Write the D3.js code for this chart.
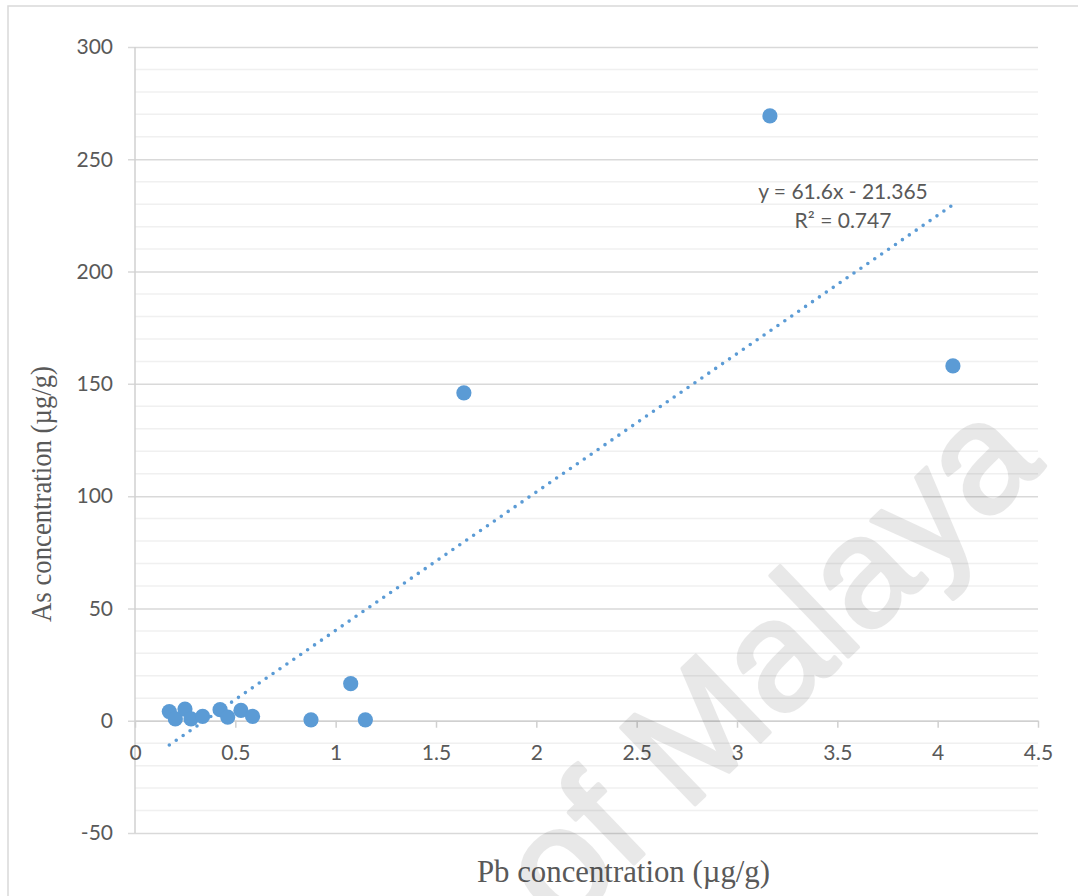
<!DOCTYPE html>
<html>
<head>
<meta charset="utf-8">
<script src="https://cdn.jsdelivr.net/npm/d3@7"></script>
<style>
  html, body { margin: 0; padding: 0; background: #fff; }
  svg { display: block; }
</style>
</head>
<body>
<svg id="chart" width="1078" height="896"></svg>
<script>
// ---- data ----
const pbValues = [0.171, 0.201, 0.249, 0.279, 0.337, 0.424, 0.462, 0.528, 0.586, 0.877, 1.075, 1.148, 1.639, 3.164, 4.076];
const asValues = [4.1, 0.8, 5.2, 0.8, 1.9, 4.9, 1.6, 4.6, 1.9, 0.4, 16.5, 0.4, 146.0, 269.3, 158.0];
const xTicks = [0, 0.5, 1, 1.5, 2, 2.5, 3, 3.5, 4, 4.5];
const yTicks = [-50, 0, 50, 100, 150, 200, 250, 300];
const trendSlope = 61.6;
const trendIntercept = -21.365;
const trendLabels = ["y = 61.6x - 21.365", "R\u00B2 = 0.747"];
const xTitle = "Pb concentration (\u00B5g/g)";
const yTitle = "As concentration (\u00B5g/g)";
const watermark = "of Malaya";

// ---- layout ----
const svg = d3.select("#chart");
const x = d3.scaleLinear().domain([0, 4.5]).range([135, 1038]);
const y = d3.scaleLinear().domain([-50, 300]).range([833, 47]);
const tickFont = "Lato, 'Open Sans', sans-serif";
const fmt = d => String(d);

// outer border
svg.append("rect").attr("x", 8).attr("y", 6).attr("width", 1090).attr("height", 900)
  .attr("fill", "none").attr("stroke", "#d9d9d9").attr("stroke-width", 1.5);

// minor gridlines
const minor = d3.range(-50, 301, 10).filter(v => v % 50 !== 0);
svg.append("g").selectAll("line").data(minor).join("line")
  .attr("x1", x(0)).attr("x2", x(4.5))
  .attr("y1", d => y(d)).attr("y2", d => y(d))
  .attr("stroke", "#f0f0f0").attr("stroke-width", 1.5);

// major gridlines (y axis with ticks)
const yAxis = d3.axisLeft(y).tickValues(yTicks).tickSize(-(x(4.5) - x(0))).tickSizeOuter(0)
  .tickFormat(fmt);
const gy = svg.append("g").attr("transform", `translate(${x(0)},0)`).call(yAxis);
gy.select(".domain").remove();
gy.selectAll(".tick line").attr("stroke", "#d9d9d9").attr("stroke-width", 1.5).attr("x1", -7);
gy.selectAll(".tick text").attr("fill", "#595959").style("font-family", tickFont)
  .style("font-size", "21px").attr("x", -22);

// y axis line
svg.append("line").attr("x1", x(0)).attr("x2", x(0)).attr("y1", y(300)).attr("y2", y(-50))
  .attr("stroke", "#d0d0d0").attr("stroke-width", 1.5);

// x axis at y=0
const xAxis = d3.axisBottom(x).tickValues(xTicks).tickSize(7).tickSizeOuter(0).tickFormat(fmt);
const gx = svg.append("g").attr("transform", `translate(0,${y(0)})`).call(xAxis);
gx.select(".domain").attr("stroke", "#d0d0d0").attr("stroke-width", 1.5);
gx.selectAll(".tick line").attr("stroke", "#d0d0d0").attr("stroke-width", 1.5);
gx.selectAll(".tick text").attr("fill", "#595959").style("font-family", tickFont)
  .style("font-size", "21px").attr("y", 24).attr("dy", "0.71em");

// trendline
const xMin = d3.min(pbValues), xMax = d3.max(pbValues);
svg.append("line")
  .attr("x1", x(xMin)).attr("y1", y(trendSlope * xMin + trendIntercept))
  .attr("x2", x(xMax)).attr("y2", y(trendSlope * xMax + trendIntercept))
  .attr("stroke", "#5B9BD5").attr("stroke-width", 3.6)
  .attr("stroke-linecap", "round").attr("stroke-dasharray", "0,8.4");

// points
svg.append("g").selectAll("circle").data(pbValues.map((v, i) => [v, asValues[i]])).join("circle")
  .attr("cx", d => x(d[0])).attr("cy", d => y(d[1])).attr("r", 7.6)
  .attr("fill", "#5B9BD5");

// trend labels
svg.append("g").selectAll("text").data(trendLabels).join("text")
  .attr("x", 843).attr("y", (d, i) => 199 + i * 29)
  .attr("text-anchor", "middle").attr("fill", "#595959")
  .style("font-family", tickFont).style("font-size", "21px")
  .text(d => d);

// axis titles
svg.append("text").attr("x", 623.5).attr("y", 882).attr("text-anchor", "middle")
  .attr("fill", "#595959").style("font-family", "'Liberation Serif', 'Times New Roman', serif")
  .style("font-size", "31px").attr("textLength", 293).attr("lengthAdjust", "spacingAndGlyphs")
  .text(xTitle);
svg.append("text").attr("transform", "translate(51,494) rotate(-90)").attr("text-anchor", "middle")
  .attr("fill", "#595959").style("font-family", "'Liberation Serif', 'Times New Roman', serif")
  .style("font-size", "30px").attr("textLength", 256).attr("lengthAdjust", "spacingAndGlyphs")
  .text(yTitle);

// watermark
svg.append("g").attr("opacity", 0.085)
  .append("text").attr("transform", "translate(562,933) rotate(-44)")
  .attr("fill", "#000").attr("stroke", "#000").attr("stroke-width", 4).attr("stroke-linejoin", "round")
  .style("font-family", "'Liberation Sans', Arial, sans-serif").style("font-size", "155px")
  .text(watermark);
</script>
</body>
</html>
